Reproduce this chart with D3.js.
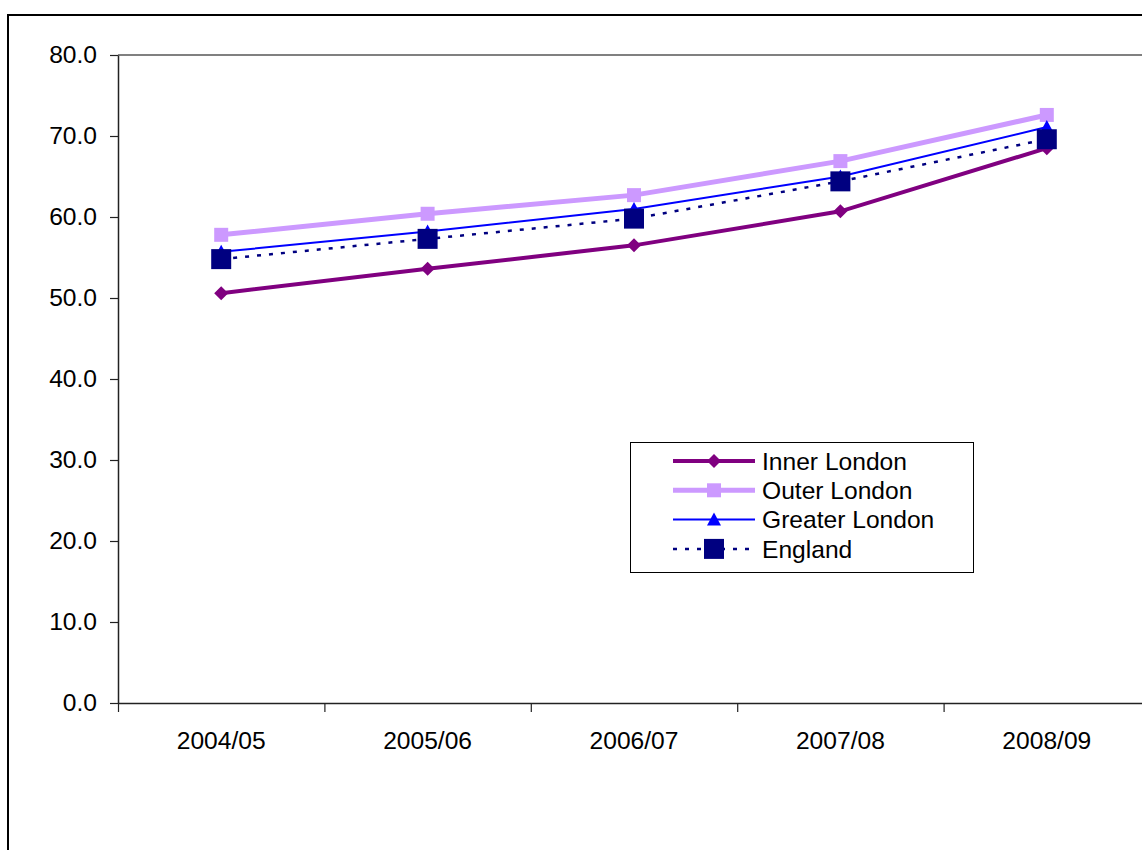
<!DOCTYPE html>
<html>
<head>
<meta charset="utf-8">
<script src="https://cdn.jsdelivr.net/npm/d3@7"></script>
<style>
  html, body { margin: 0; padding: 0; background: #fff; overflow: hidden; }
  svg { display: block; font-family: "Liberation Sans", Arial, sans-serif; }
</style>
</head>
<body>
<svg id="chart" width="1142" height="850"></svg>
<script>
// Academic years on the category axis
const categories = ["2004/05", "2005/06", "2006/07", "2007/08", "2008/09"];

// Percentage values per area
const innerLondon   = [50.6, 53.6, 56.5, 60.7, 68.5];
const outerLondon   = [57.8, 60.4, 62.7, 66.9, 72.6];
const greaterLondon = [55.7, 58.2, 61.0, 65.0, 71.1];
const england       = [54.8, 57.3, 59.8, 64.4, 69.6];

const yTicks = [0, 10, 20, 30, 40, 50, 60, 70, 80];

const seriesNames = ["Inner London", "Outer London", "Greater London", "England"];

const series = [
  { name: seriesNames[0], values: innerLondon,   color: "#800080", width: 4,   dash: null,  marker: "diamond",  size: 7 },
  { name: seriesNames[1], values: outerLondon,   color: "#CC99FF", width: 5,   dash: null,  marker: "square",   size: 7 },
  { name: seriesNames[2], values: greaterLondon, color: "#0000FF", width: 2,   dash: null,  marker: "triangle", size: 7 },
  { name: seriesNames[3], values: england,       color: "#000080", width: 2.5, dash: "4 8", marker: "square",   size: 10 }
];

const svg = d3.select("#chart");

// Outer chart frame (continues past the window edges)
svg.append("rect")
  .attr("x", 8).attr("y", 15)
  .attr("width", 1200).attr("height", 900)
  .attr("fill", "#fff").attr("stroke", "#000").attr("stroke-width", 2);

const plot = { left: 118, top: 55, bottom: 703, right: 1150 };

const x = d3.scaleBand().domain(categories).range([plot.left, plot.right]);
const xEdge = d3.scaleLinear().domain([0, categories.length]).range([plot.left, plot.right]);
const y = d3.scaleLinear().domain([0, 80]).range([plot.bottom, plot.top]);

// Plot-area top border
svg.append("line")
  .attr("x1", plot.left).attr("x2", plot.right + 10)
  .attr("y1", plot.top).attr("y2", plot.top)
  .attr("stroke", "#808080").attr("stroke-width", 2);

// Y axis
const yAxis = svg.append("g")
  .attr("transform", `translate(${plot.left},0)`)
  .call(d3.axisLeft(y).tickValues(yTicks).tickFormat(d3.format(".1f"))
    .tickSize(8).tickSizeOuter(0).tickPadding(13));
yAxis.select(".domain").attr("stroke", "#222").attr("stroke-width", 1.5);
yAxis.selectAll(".tick line").attr("stroke", "#222").attr("stroke-width", 1.2);
yAxis.selectAll(".tick text").attr("font-size", "24.6px").attr("fill", "#000")
  .attr("font-family", "'Liberation Sans', Arial, sans-serif");

// X axis: tick marks at category boundaries
const xTickAxis = svg.append("g")
  .attr("transform", `translate(0,${plot.bottom})`)
  .call(d3.axisBottom(xEdge).tickValues(d3.range(categories.length + 1))
    .tickFormat("").tickSize(9).tickSizeOuter(0));
xTickAxis.select(".domain").attr("stroke", "#222").attr("stroke-width", 1.5);
xTickAxis.selectAll(".tick line").attr("stroke", "#222").attr("stroke-width", 1.2);

// X axis: category labels centred in each band
const xLabelAxis = svg.append("g")
  .attr("transform", `translate(0,${plot.bottom})`)
  .call(d3.axisBottom(x).tickSize(0).tickPadding(29));
xLabelAxis.select(".domain").remove();
xLabelAxis.selectAll(".tick text").attr("font-size", "24.6px").attr("fill", "#000")
  .attr("font-family", "'Liberation Sans', Arial, sans-serif");

const cx = d => x(d) + x.bandwidth() / 2;

function markerPath(type, s) {
  if (type === "diamond") return `M0,${-s}L${s},0L0,${s}L${-s},0Z`;
  if (type === "triangle") return `M0,${-s}L${s},${s * 0.85}L${-s},${s * 0.85}Z`;
  return `M${-s},${-s}H${s}V${s}H${-s}Z`;
}

const line = d3.line().x(d => cx(d.cat)).y(d => y(d.v));

series.forEach(s => {
  const pts = categories.map((c, i) => ({ cat: c, v: s.values[i] }));
  const g = svg.append("g");
  g.append("path")
    .attr("d", line(pts))
    .attr("fill", "none")
    .attr("stroke", s.color)
    .attr("stroke-width", s.width)
    .attr("stroke-dasharray", s.dash);
  g.selectAll("path.m").data(pts).join("path")
    .attr("class", "m")
    .attr("transform", d => `translate(${cx(d.cat)},${y(d.v)})`)
    .attr("d", markerPath(s.marker, s.size))
    .attr("fill", s.color);
});

// Legend
const legend = svg.append("g");
legend.append("rect")
  .attr("x", 630.5).attr("y", 442.5)
  .attr("width", 343).attr("height", 130)
  .attr("fill", "#fff").attr("stroke", "#000").attr("stroke-width", 1);

series.forEach((s, i) => {
  const ry = 461 + i * 29.3;
  legend.append("line")
    .attr("x1", 673).attr("x2", 755)
    .attr("y1", ry).attr("y2", ry)
    .attr("stroke", s.color).attr("stroke-width", s.width)
    .attr("stroke-dasharray", s.dash);
  legend.append("path")
    .attr("transform", `translate(714,${ry})`)
    .attr("d", markerPath(s.marker, s.size))
    .attr("fill", s.color);
  legend.append("text")
    .attr("x", 762).attr("y", ry).attr("dy", "0.35em")
    .attr("font-size", "24.6px").attr("fill", "#000")
    .text(s.name);
});
</script>
</body>
</html>
